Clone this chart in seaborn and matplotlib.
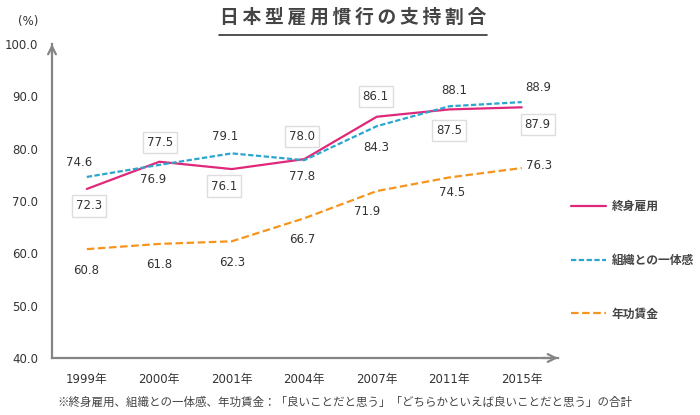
import matplotlib
matplotlib.use('Agg')
import matplotlib.pyplot as plt
from matplotlib.lines import Line2D
import seaborn as sns
import pandas as pd

# ─────────────────────────────────────────────────────────────────────────────
# Data
# ─────────────────────────────────────────────────────────────────────────────
YEARS = ['1999年', '2000年', '2001年', '2004年', '2007年', '2011年', '2015年']
SERIES = ['終身雇用', '組織との一体感', '年功賃金']
LIFETIME = [72.3, 77.5, 76.1, 78.0, 86.1, 87.5, 87.9]
UNITY = [74.6, 76.9, 79.1, 77.8, 84.3, 88.1, 88.9]
SENIORITY = [60.8, 61.8, 62.3, 66.7, 71.9, 74.5, 76.3]
Y_TICKS = [40, 50, 60, 70, 80, 90, 100]

TITLE = '日本型雇用慣行の支持割合'
NOTE = '※終身雇用、組織との一体感、年功賃金：「良いことだと思う」「どちらかといえば良いことだと思う」の合計'

# ─────────────────────────────────────────────────────────────────────────────
# Style
# ─────────────────────────────────────────────────────────────────────────────
COLORS = {'終身雇用': '#e0287a', '組織との一体感': '#2ba6cf', '年功賃金': '#f7941d'}
DASHES = {'終身雇用': '', '組織との一体感': (2.4, 1.1), '年功賃金': (3.4, 1.6)}
AXIS_GRAY = '#858585'
TEXT = '#333333'

# label offsets in pixels (dx, dy) relative to the data point
OFFSETS = {
    '終身雇用': [(2, -17), (1, 19), (-8, -17), (-2, 23), (-1, 20), (0, -21), (16, -17)],
    '組織との一体感': [(-8, 14), (-6, -15), (-7, 17), (-2, -16), (-1, -21), (5, 16), (16, 15)],
    '年功賃金': [(-1, -21), (0, -21), (0, -21), (-2, -21), (-10, -20), (3, -15), (17, 3)],
}

sns.set_style('white')
plt.rcParams['font.family'] = ['DejaVu Sans', 'Noto Sans CJK JP']

df = pd.DataFrame({
    'year': YEARS * 3,
    'series': [s for s in SERIES for _ in YEARS],
    'value': LIFETIME + UNITY + SENIORITY,
})

fig = plt.figure(figsize=(7, 4.15), dpi=100)
ax = fig.add_axes([52 / 700, 1 - 358 / 415, (558 - 52) / 700, (358 - 44) / 415])

sns.lineplot(data=df, x='year', y='value', hue='series', style='series',
             palette=COLORS, dashes=DASHES, linewidth=1.6, sort=False,
             legend=False, ax=ax)

ax.set_xlim(-0.48, 6.5)
ax.set_ylim(40, 100)
ax.set_xlabel('')
ax.set_ylabel('')

for s in ['top', 'right']:
    ax.spines[s].set_visible(False)
for s in ['left', 'bottom']:
    ax.spines[s].set_color(AXIS_GRAY)
    ax.spines[s].set_linewidth(1.6)

# arrow heads on the axes
ax.annotate('', xy=(0, 1.0), xytext=(0, 0.97), xycoords='axes fraction',
            arrowprops=dict(arrowstyle='->', color=AXIS_GRAY, lw=1.6,
                            mutation_scale=14, shrinkA=0, shrinkB=0))
ax.annotate('', xy=(1.0, 0), xytext=(0.97, 0), xycoords='axes fraction',
            arrowprops=dict(arrowstyle='->', color=AXIS_GRAY, lw=1.6,
                            mutation_scale=14, shrinkA=0, shrinkB=0))

ax.set_yticks(Y_TICKS)
ax.set_yticklabels([f'{v:.1f}' for v in Y_TICKS])
ax.tick_params(axis='y', direction='in', length=4, width=1, color=AXIS_GRAY,
               pad=10, labelsize=8.5, labelcolor=TEXT)
ax.set_xticks(range(len(YEARS)))
ax.set_xticklabels(YEARS)
ax.tick_params(axis='x', length=0, pad=11, labelsize=8.5, labelcolor=TEXT)
ax.set_xticks([i + 0.5 for i in range(len(YEARS) - 1)], minor=True)
ax.tick_params(axis='x', which='minor', direction='in', length=4, width=1,
               color=AXIS_GRAY)

# data labels
values = {'終身雇用': LIFETIME, '組織との一体感': UNITY, '年功賃金': SENIORITY}
for name in SERIES:
    for i, v in enumerate(values[name]):
        dx, dy = OFFSETS[name][i]
        box = None
        if name == '終身雇用':
            box = dict(boxstyle='square,pad=0.35', fc='white', ec='#dddddd', lw=1)
        ax.annotate(f'{v:.1f}', (i, v), xytext=(dx, dy), textcoords='offset pixels',
                    ha='center', va='center', fontsize=8.5, color=TEXT, bbox=box)

# legend
handles = [Line2D([], [], color=COLORS[s], lw=1.6,
                  linestyle='-' if DASHES[s] == '' else (0, DASHES[s]))
           for s in SERIES]
fig.legend(handles, SERIES, loc='upper left', bbox_to_anchor=(571 / 700, 1 - 200 / 415),
           frameon=False, borderpad=0, borderaxespad=0, handlelength=2.95,
           handletextpad=0.5, labelspacing=3.45,
           prop=dict(family=['Noto Sans CJK JP', 'DejaVu Sans'], size=8.5, weight='bold'),
           labelcolor='#444444')

# title, unit and footnote
fig.text(353 / 700, 1 - 17 / 415, '\u2009'.join(TITLE), ha='center', va='center',
         fontsize=13.5, fontweight='bold', color='#444444',
         family=['Noto Sans CJK JP', 'DejaVu Sans'])
fig.add_artist(Line2D([219 / 700, 487 / 700], [1 - 35 / 415, 1 - 35 / 415],
                      color='#333333', lw=1.2))
fig.text(28 / 700, 1 - 21 / 415, '(%)', ha='center', va='center', fontsize=8.5, color=TEXT)
fig.text(57 / 700, 1 - 402 / 415, NOTE, ha='left', va='center', fontsize=8.3,
         color='#444444', family=['Noto Sans CJK JP', 'DejaVu Sans'])

plt.savefig('out.png', dpi=100)
plt.close()
